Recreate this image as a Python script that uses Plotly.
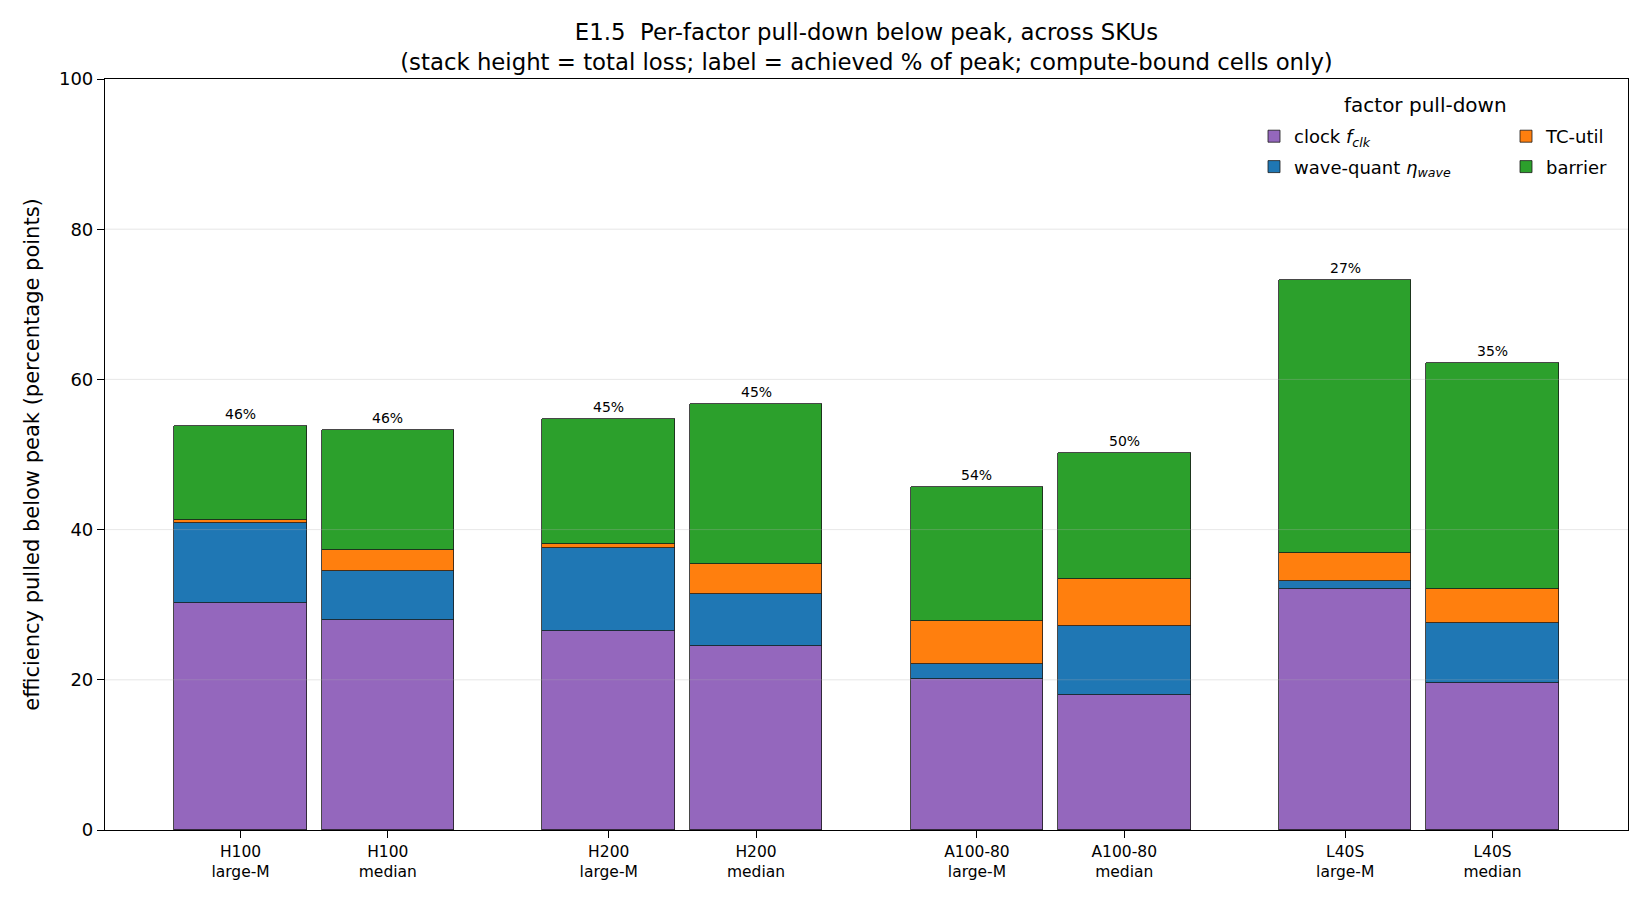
import plotly.graph_objects as go

# ---- data ----
skus = ["H100", "H100", "H200", "H200", "A100-80", "A100-80", "L40S", "L40S"]
cells = ["large-M", "median", "large-M", "median", "large-M", "median", "large-M", "median"]
clock = [30.2, 28.0, 26.5, 24.5, 20.1, 18.0, 32.1, 19.6]
wave_quant = [10.7, 6.5, 11.0, 6.9, 2.0, 9.2, 1.1, 8.0]
tc_util = [0.4, 2.8, 0.6, 4.0, 5.7, 6.2, 3.7, 4.5]
barrier = [12.5, 16.0, 16.6, 21.3, 17.9, 16.8, 36.3, 30.1]
achieved_pct = [46, 46, 45, 45, 54, 50, 27, 35]
y_ticks = [0, 20, 40, 60, 80, 100]

# ---- layout helpers ----
sku_order = []
for s in skus:
    if s not in sku_order:
        sku_order.append(s)
group_gap = 2.5
xpos = []
seen = {}
for s in skus:
    g = sku_order.index(s)
    k = seen.get(s, 0)
    seen[s] = k + 1
    xpos.append(g * group_gap + k)
ticktext = [f"{s}<br>{c}" for s, c in zip(skus, cells)]
totals = [a + b + c + d for a, b, c, d in zip(clock, wave_quant, tc_util, barrier)]

FONT = "DejaVu Sans"
edge = dict(color="#1a1a1a", width=0.8)

series = [
    ("clock <i>f</i><sub><i>clk</i></sub>", clock, "#9467bd", "legend"),
    ("wave-quant <i>η</i><sub><i>wave</i></sub>", wave_quant, "#1f77b4", "legend"),
    ("TC-util", tc_util, "#ff7f0e", "legend2"),
    ("barrier", barrier, "#2ca02c", "legend2"),
]

fig = go.Figure()
for i, (name, vals, col, lg) in enumerate(series):
    fig.add_trace(go.Bar(
        x=xpos, y=vals, name=name, width=0.9,
        marker=dict(color=col, line=edge),
        legend=lg, legendgroup=f"g{i}",
    ))

annotations = [dict(
    text="factor pull-down", xref="paper", yref="paper",
    x=(1425 - 105) / 1523, y=(830 - 105) / 751, xanchor="center", yanchor="middle",
    showarrow=False, font=dict(family=FONT, size=20, color="#000"),
)]
for x, tot, pct in zip(xpos, totals, achieved_pct):
    annotations.append(dict(
        x=x, y=tot, xref="x", yref="y", text=f"{pct}%", showarrow=False,
        xanchor="center", yanchor="bottom", yshift=2,
        font=dict(family=FONT, size=14, color="#000"),
    ))

# gridlines drawn above bars (as in the reference)
for t in y_ticks[1:-1]:
    fig.add_shape(type="line", xref="paper", x0=0, x1=1, yref="y", y0=t, y1=t,
                  line=dict(color="rgba(176,176,176,0.3)", width=1), layer="above")

legend_common = dict(
    xanchor="left", y=(830 - 118) / 751, yanchor="top",
    bgcolor="rgba(0,0,0,0)", borderwidth=0,
    font=dict(family=FONT, size=18, color="#000"),
    tracegroupgap=4, traceorder="grouped",
)

fig.update_layout(
    width=1650, height=900,
    barmode="stack",
    bargap=0,
    paper_bgcolor="white", plot_bgcolor="white",
    font=dict(family=FONT, color="#000"),
    margin=dict(l=105, r=22, t=79, b=70, autoexpand=False),
    title=dict(
        text="E1.5\u00a0 Per-factor pull-down below peak, across SKUs<br>"
             "(stack height = total loss; label = achieved % of peak; compute-bound cells only)",
        x=0.5, xref="paper", xanchor="center",
        y=1 - 40 / 900, yref="container", yanchor="middle",
        font=dict(family=FONT, size=22.8, color="#000"),
    ),
    xaxis=dict(
        range=[-0.92, 9.42], tickvals=xpos, ticktext=ticktext,
        tickfont=dict(family=FONT, size=15.5, color="#000"),
        ticks="outside", ticklen=7, tickwidth=1, tickcolor="#000",
        showline=True, linecolor="#000", linewidth=1.2, mirror=True,
        showgrid=False, zeroline=False, fixedrange=True,
    ),
    yaxis=dict(
        range=[0, 100], tickvals=y_ticks,
        tickfont=dict(family=FONT, size=18, color="#000"),
        ticks="outside", ticklen=7, tickwidth=1, tickcolor="#000",
        showline=True, linecolor="#000", linewidth=1.2, mirror=True,
        showgrid=False, zeroline=False,
        title=dict(text="efficiency pulled below peak (percentage points)",
                   font=dict(family=FONT, size=21, color="#000"), standoff=13),
    ),
    legend=dict(x=(1254 - 105) / 1523, **legend_common),
    legend2=dict(x=(1506 - 105) / 1523, **legend_common),
    annotations=annotations,
)

fig.write_html("out.html")
